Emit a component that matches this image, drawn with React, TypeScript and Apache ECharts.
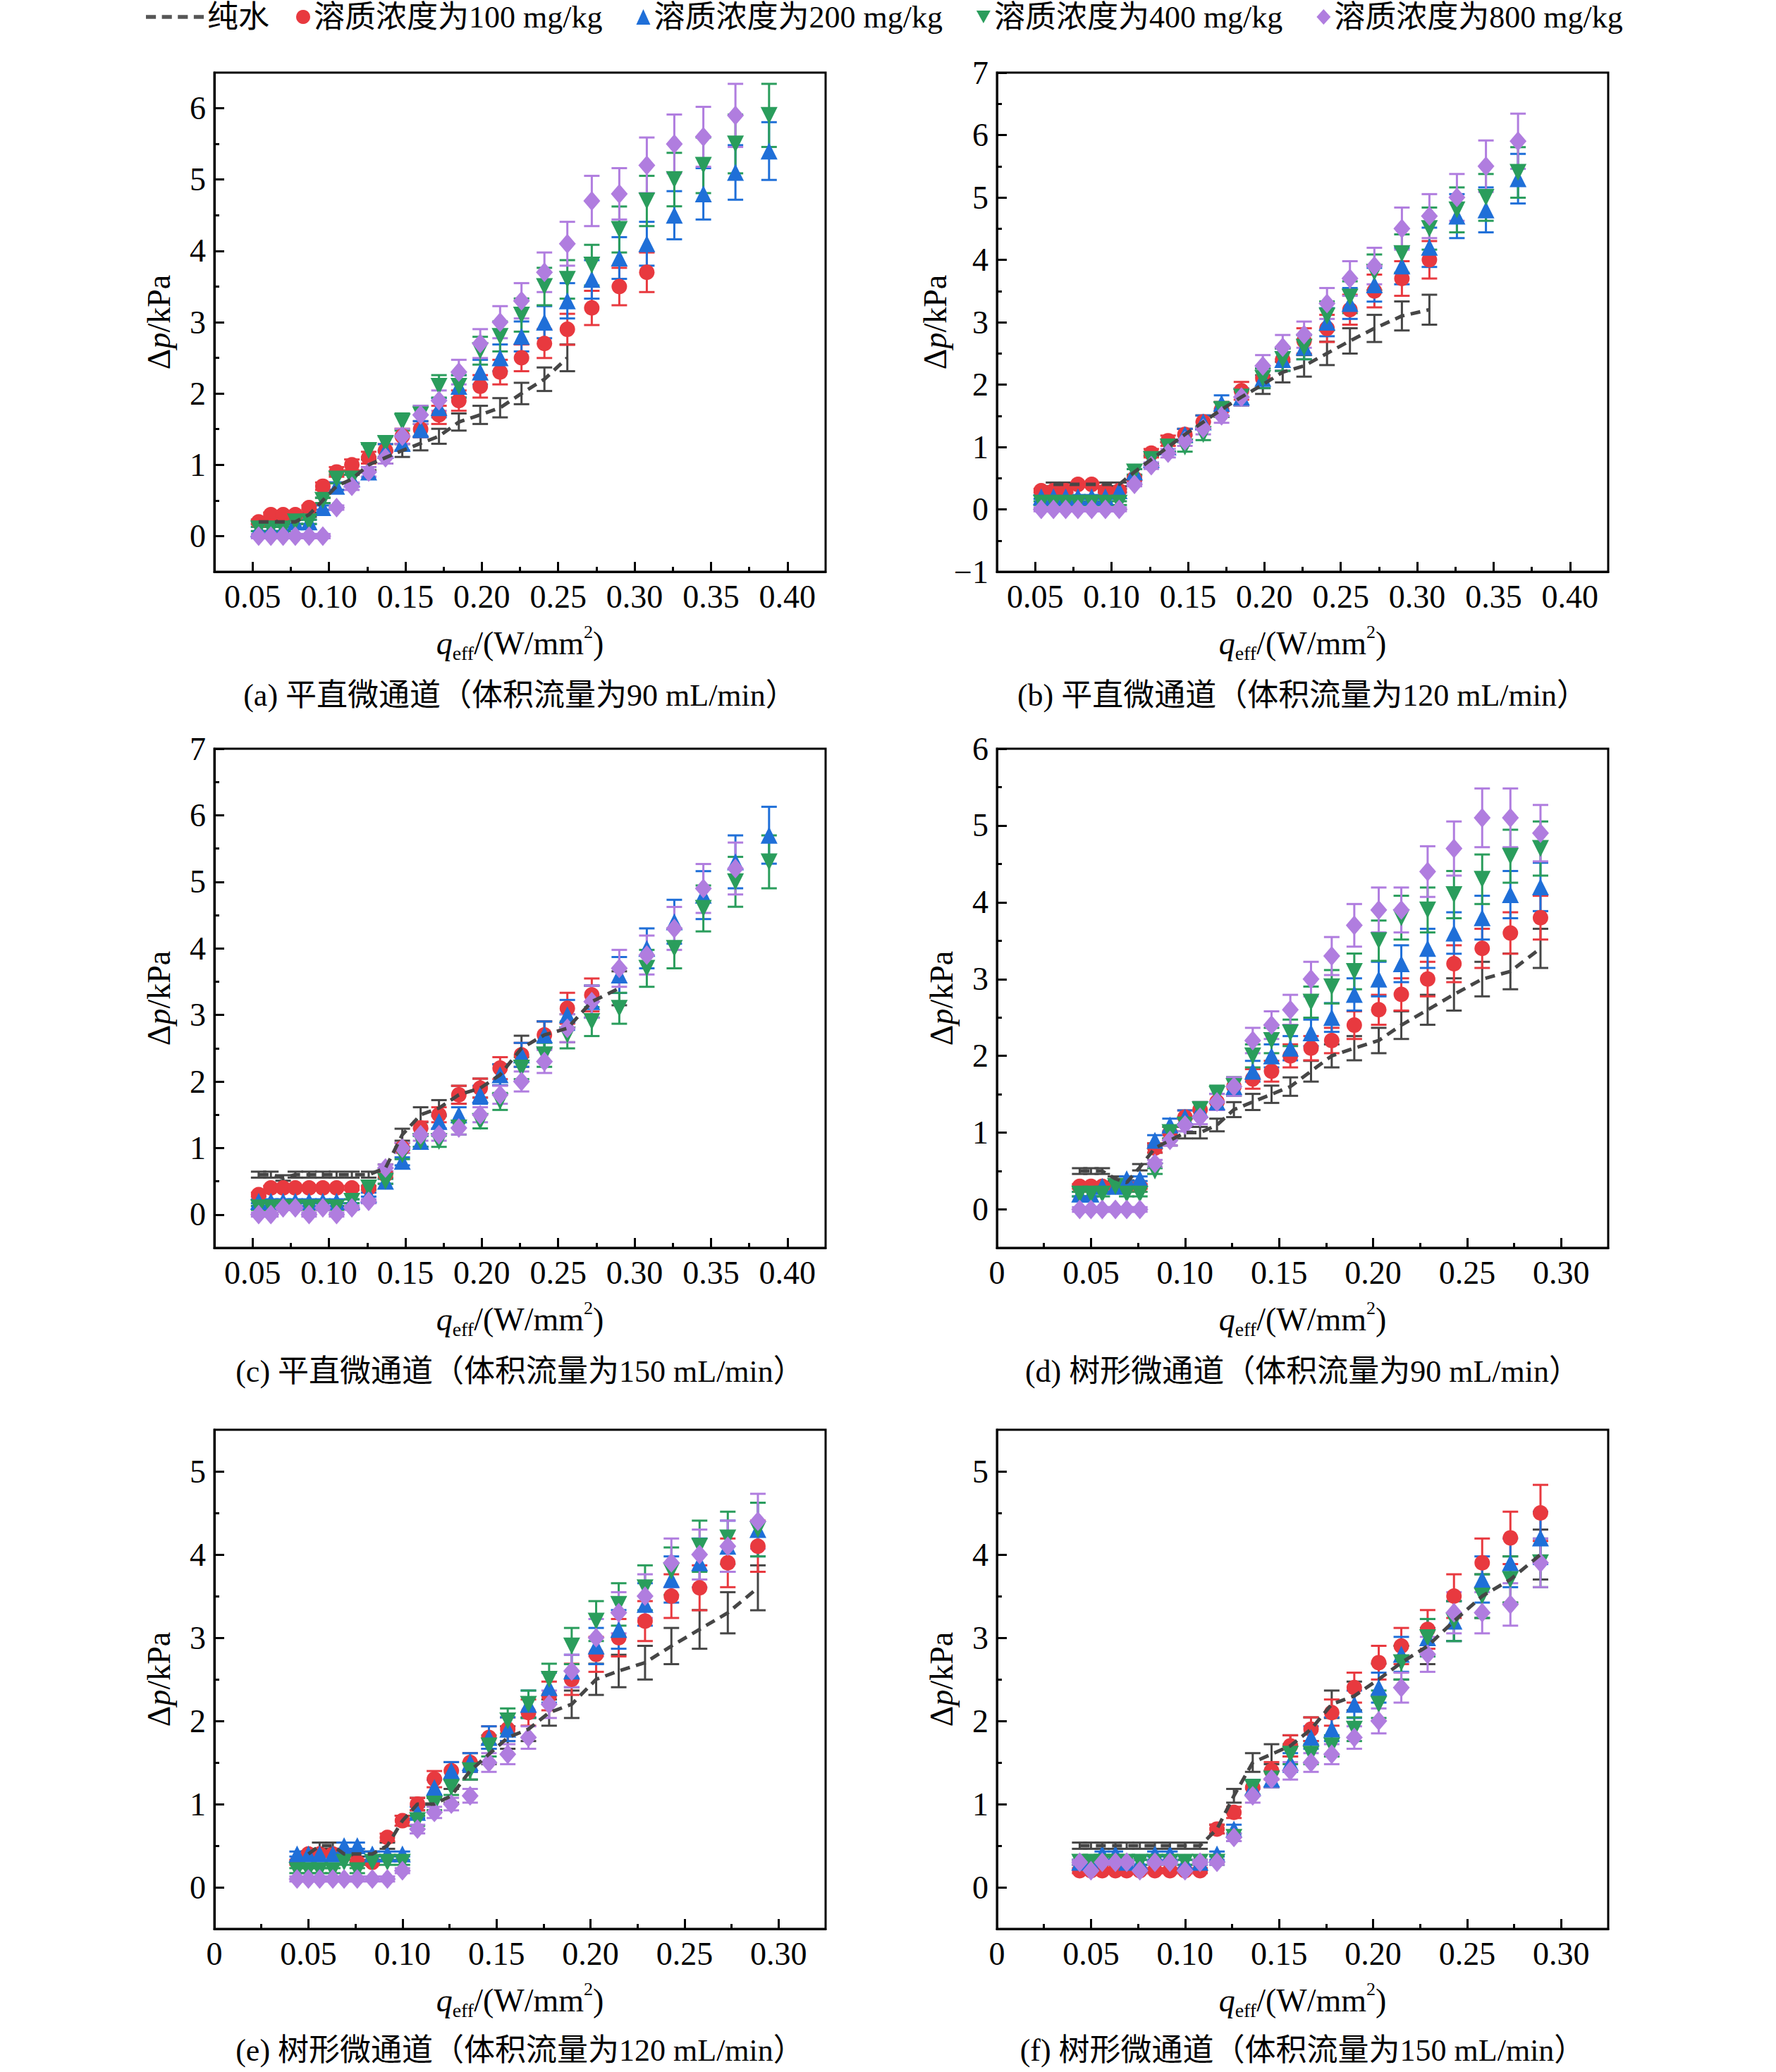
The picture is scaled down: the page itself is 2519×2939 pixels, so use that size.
import React, { useEffect, useRef } from "react";
import * as echarts from "echarts";

// ---------- data ----------
const X_STRAIGHT = [0.054, 0.062, 0.070, 0.078, 0.087, 0.096, 0.105, 0.115, 0.126, 0.137, 0.148, 0.160, 0.172, 0.185, 0.199, 0.212, 0.226, 0.241, 0.256, 0.272, 0.290, 0.308, 0.326, 0.345, 0.366, 0.388];
const X_TREE = [0.044, 0.050, 0.056, 0.063, 0.069, 0.076, 0.084, 0.092, 0.100, 0.108, 0.117, 0.126, 0.136, 0.146, 0.156, 0.167, 0.178, 0.190, 0.203, 0.215, 0.229, 0.243, 0.258, 0.273, 0.289];

const X_TICKS_STRAIGHT = [0.05, 0.10, 0.15, 0.20, 0.25, 0.30, 0.35, 0.40];
const X_MINOR_STRAIGHT = [0.075, 0.125, 0.175, 0.225, 0.275, 0.325, 0.375];
const X_TICKS_TREE = [0, 0.05, 0.10, 0.15, 0.20, 0.25, 0.30];
const X_MINOR_TREE = [0.025, 0.075, 0.125, 0.175, 0.225, 0.275];

const SERIES_NAMES = ["纯水", "溶质浓度为100 mg/kg", "溶质浓度为200 mg/kg", "溶质浓度为400 mg/kg", "溶质浓度为800 mg/kg"];
const CAPTIONS = [
  "(a) 平直微通道（体积流量为90 mL/min）",
  "(b) 平直微通道（体积流量为120 mL/min）",
  "(c) 平直微通道（体积流量为150 mL/min）",
  "(d) 树形微通道（体积流量为90 mL/min）",
  "(e) 树形微通道（体积流量为120 mL/min）",
  "(f) 树形微通道（体积流量为150 mL/min）",
];

// relative uncertainty of the error bars
const ERROR_RATIO = 0.075;
const MIN_ERROR = 0.03;

// panel (a)
const A_WATER = [0.2, 0.2, 0.2, 0.2, 0.3, 0.5, 0.7, 0.8, 1.0, 1.1, 1.2, 1.3, 1.4, 1.6, 1.7, 1.8, 2.0, 2.2, 2.5];
const A_100 = [0.2, 0.3, 0.3, 0.3, 0.4, 0.7, 0.9, 1.0, 1.1, 1.2, 1.4, 1.5, 1.7, 1.9, 2.1, 2.3, 2.5, 2.7, 2.9, 3.2, 3.5, 3.7];
const A_200 = [0.1, 0.1, 0.1, 0.2, 0.2, 0.4, 0.7, 0.8, 0.9, 1.2, 1.3, 1.5, 1.8, 2.1, 2.3, 2.5, 2.8, 3.0, 3.3, 3.6, 3.9, 4.1, 4.5, 4.8, 5.1, 5.4];
const A_400 = [0.1, 0.1, 0.1, 0.2, 0.2, 0.5, 0.8, 0.8, 1.2, 1.3, 1.6, 1.7, 2.1, 2.1, 2.6, 2.8, 3.1, 3.5, 3.6, 3.8, 4.3, 4.7, 5.0, 5.2, 5.5, 5.9];
const A_800 = [0, 0, 0, 0, 0, 0, 0.4, 0.7, 0.9, 1.1, 1.4, 1.7, 1.9, 2.3, 2.7, 3.0, 3.3, 3.7, 4.1, 4.7, 4.8, 5.2, 5.5, 5.6, 5.9];

// panel (b)
const B_WATER = [null, 0.4, 0.4, 0.4, 0.4, 0.4, 0.4, 0.6, 0.8, 1.0, 1.2, 1.4, 1.6, 1.8, 2.0, 2.2, 2.3, 2.5, 2.7, 2.9, 3.1, 3.2];
const B_100 = [0.3, 0.3, 0.3, 0.4, 0.4, 0.3, 0.3, 0.5, 0.9, 1.1, 1.2, 1.4, 1.6, 1.9, 2.1, 2.4, 2.7, 2.9, 3.2, 3.5, 3.7, 4.0];
const B_200 = [0.2, 0.2, 0.2, 0.2, 0.2, 0.2, 0.3, 0.6, 0.8, 1.0, 1.2, 1.4, 1.7, 1.8, 2.1, 2.4, 2.6, 3.0, 3.3, 3.6, 3.9, 4.2, 4.7, 4.8, 5.3];
const B_400 = [0.1, 0.1, 0.1, 0.1, 0.1, 0.1, 0.1, 0.6, 0.8, 1.0, 1.0, 1.2, 1.6, 1.8, 2.1, 2.4, 2.6, 3.1, 3.4, 3.8, 4.1, 4.5, 4.8, 5.0, 5.4];
const B_800 = [0, 0, 0, 0, 0, 0, 0, 0.4, 0.7, 0.9, 1.1, 1.3, 1.5, 1.8, 2.3, 2.6, 2.8, 3.3, 3.7, 3.9, 4.5, 4.7, 5.0, 5.5, 5.9];

// panel (c)
const C_WATER = [0.6, 0.6, 0.55, 0.6, 0.6, 0.6, 0.6, 0.6, 0.6, 0.7, 1.2, 1.5, 1.6, 1.8, 1.9, 2.1, 2.5, 2.7, 2.8, 3.2, 3.4];
const C_100 = [0.3, 0.4, 0.4, 0.4, 0.4, 0.4, 0.4, 0.4, 0.4, 0.6, 1.0, 1.3, 1.5, 1.8, 1.9, 2.2, 2.4, 2.7, 3.1, 3.3];
const C_200 = [0.2, 0.2, 0.2, 0.2, 0.2, 0.2, 0.2, 0.2, 0.3, 0.5, 0.8, 1.1, 1.4, 1.5, 1.8, 2.1, 2.4, 2.7, 3.0, 3.2, 3.6, 4.0, 4.4, 4.8, 5.3, 5.7];
const C_400 = [0.1, 0.1, 0.1, 0.1, 0.1, 0.1, 0.1, 0.2, 0.4, 0.5, 0.9, 1.1, 1.1, 1.3, 1.4, 1.7, 2.2, 2.4, 2.7, 2.9, 3.1, 3.7, 4.0, 4.6, 5.0, 5.3];
const C_800 = [0, 0, 0.1, 0.1, 0, 0.1, 0, 0.1, 0.2, 0.7, 1.0, 1.2, 1.2, 1.3, 1.5, 1.8, 2.0, 2.3, 2.8, 3.2, 3.7, 3.9, 4.3, 4.9, 5.2];

// panel (d)
const D_WATER = [0.5, 0.5, 0.5, 0.4, 0.35, 0.55, 0.8, 0.9, 1.0, 1.0, 1.1, 1.3, 1.4, 1.5, 1.6, 1.8, 2.0, 2.1, 2.2, 2.4, 2.6, 2.8, 3.0, 3.1, 3.4];
const D_100 = [0.3, 0.3, 0.3, 0.3, 0.3, 0.3, 0.8, 1.0, 1.2, 1.3, 1.4, 1.6, 1.7, 1.8, 2.0, 2.1, 2.2, 2.4, 2.6, 2.8, 3.0, 3.2, 3.4, 3.6, 3.8];
const D_200 = [0.2, 0.2, 0.3, 0.3, 0.4, 0.4, 0.9, 1.1, 1.2, 1.3, 1.4, 1.6, 1.8, 2.0, 2.1, 2.3, 2.5, 2.8, 3.0, 3.2, 3.4, 3.6, 3.8, 4.1, 4.2];
const D_400 = [0.2, 0.2, 0.2, 0.3, 0.2, 0.2, 0.5, 1.0, 1.1, 1.3, 1.5, 1.6, 2.0, 2.2, 2.3, 2.7, 2.9, 3.1, 3.5, 3.8, 3.9, 4.1, 4.3, 4.6, 4.7];
const D_800 = [0, 0, 0, 0, 0, 0, 0.6, 0.9, 1.1, 1.2, 1.4, 1.6, 2.2, 2.4, 2.6, 3.0, 3.3, 3.7, 3.9, 3.9, 4.4, 4.7, 5.1, 5.1, 4.9];

// panel (e)
const E_WATER = [null, 0.4, 0.5, 0.5, 0.4, 0.4, 0.4, 0.5, 0.8, 1.0, 1.0, 1.1, 1.4, 1.6, 1.8, 1.9, 2.1, 2.2, 2.5, 2.6, 2.7, 2.9, 3.1, 3.3, 3.6];
const E_100 = [0.3, 0.4, 0.4, 0.4, 0.4, 0.3, 0.3, 0.6, 0.8, 1.0, 1.3, 1.4, 1.5, 1.8, 1.9, 2.1, 2.3, 2.5, 2.8, 3.0, 3.2, 3.5, 3.6, 3.9, 4.1];
const E_200 = [0.4, 0.4, 0.4, 0.4, 0.5, 0.5, 0.4, 0.4, 0.4, 0.9, 1.2, 1.4, 1.5, 1.8, 1.9, 2.2, 2.4, 2.6, 2.9, 3.1, 3.4, 3.7, 3.9, 4.1, 4.3];
const E_400 = [0.2, 0.2, 0.2, 0.2, 0.3, 0.2, 0.3, 0.3, 0.3, 0.8, 1.0, 1.2, 1.4, 1.7, 2.0, 2.2, 2.5, 2.9, 3.2, 3.4, 3.6, 3.8, 4.1, 4.2, 4.3];
const E_800 = [0.1, 0.1, 0.1, 0.1, 0.1, 0.1, 0.1, 0.1, 0.2, 0.7, 0.9, 1.0, 1.1, 1.5, 1.6, 1.8, 2.2, 2.6, 3.0, 3.3, 3.5, 3.9, 4.0, 4.1, 4.4];

// panel (f)
const F_WATER = [0.5, 0.5, 0.5, 0.5, 0.5, 0.5, 0.5, 0.5, 0.5, 0.5, 0.7, 1.1, 1.5, 1.6, 1.7, 1.9, 2.2, 2.3, 2.5, 2.7, 2.9, 3.2, 3.5, 3.7, 4.0];
const F_100 = [0.2, 0.2, 0.2, 0.2, 0.2, 0.2, 0.2, 0.2, 0.2, 0.2, 0.7, 0.9, 1.2, 1.4, 1.7, 1.9, 2.1, 2.4, 2.7, 2.9, 3.1, 3.5, 3.9, 4.2, 4.5];
const F_200 = [0.3, 0.3, 0.4, 0.4, 0.3, 0.3, 0.4, 0.4, 0.3, 0.3, 0.4, 0.7, 1.2, 1.3, 1.5, 1.8, 1.9, 2.2, 2.4, 2.8, 3.0, 3.2, 3.7, 3.9, 4.2];
const F_400 = [0.3, 0.3, 0.3, 0.3, 0.3, 0.3, 0.3, 0.3, 0.3, 0.3, 0.3, 0.6, 1.2, 1.3, 1.6, 1.6, 1.7, 1.9, 2.2, 2.7, 3.0, 3.2, 3.5, 3.7, 3.9];
const F_800 = [0.3, 0.2, 0.3, 0.3, 0.3, 0.2, 0.3, 0.3, 0.2, 0.3, 0.3, 0.6, 1.1, 1.3, 1.4, 1.5, 1.6, 1.8, 2.0, 2.4, 2.8, 3.3, 3.3, 3.4, 3.9];

const PANELS = [
  { x: X_STRAIGHT, series: [A_WATER, A_100, A_200, A_400, A_800], xMin: 0.025, xMax: 0.425, xTicks: X_TICKS_STRAIGHT, xMinor: X_MINOR_STRAIGHT, yMin: -0.5, yMax: 6.5, yTicks: [0, 1, 2, 3, 4, 5, 6], yMinor: [0.5, 1.5, 2.5, 3.5, 4.5, 5.5] },
  { x: X_STRAIGHT, series: [B_WATER, B_100, B_200, B_400, B_800], xMin: 0.025, xMax: 0.425, xTicks: X_TICKS_STRAIGHT, xMinor: X_MINOR_STRAIGHT, yMin: -1, yMax: 7, yTicks: [-1, 0, 1, 2, 3, 4, 5, 6, 7], yMinor: [-0.5, 0.5, 1.5, 2.5, 3.5, 4.5, 5.5, 6.5] },
  { x: X_STRAIGHT, series: [C_WATER, C_100, C_200, C_400, C_800], xMin: 0.025, xMax: 0.425, xTicks: X_TICKS_STRAIGHT, xMinor: X_MINOR_STRAIGHT, yMin: -0.5, yMax: 7, yTicks: [0, 1, 2, 3, 4, 5, 6, 7], yMinor: [0.5, 1.5, 2.5, 3.5, 4.5, 5.5, 6.5] },
  { x: X_TREE, series: [D_WATER, D_100, D_200, D_400, D_800], xMin: 0, xMax: 0.325, xTicks: X_TICKS_TREE, xMinor: X_MINOR_TREE, yMin: -0.5, yMax: 6, yTicks: [0, 1, 2, 3, 4, 5, 6], yMinor: [0.5, 1.5, 2.5, 3.5, 4.5, 5.5] },
  { x: X_TREE, series: [E_WATER, E_100, E_200, E_400, E_800], xMin: 0, xMax: 0.325, xTicks: X_TICKS_TREE, xMinor: X_MINOR_TREE, yMin: -0.5, yMax: 5.5, yTicks: [0, 1, 2, 3, 4, 5], yMinor: [0.5, 1.5, 2.5, 3.5, 4.5] },
  { x: X_TREE, series: [F_WATER, F_100, F_200, F_400, F_800], xMin: 0, xMax: 0.325, xTicks: X_TICKS_TREE, xMinor: X_MINOR_TREE, yMin: -0.5, yMax: 5.5, yTicks: [0, 1, 2, 3, 4, 5], yMinor: [0.5, 1.5, 2.5, 3.5, 4.5] },
];

// ---------- styles / layout ----------
const W = 2519;
const H = 2939;
const FONT = "'Liberation Serif', 'Times New Roman', 'Noto Sans CJK SC', serif";
const COLORS = ["#464646", "#e8393f", "#1f6fd8", "#2a9d5c", "#b07ddf"];
const SYMBOLS = ["none", "circle", "triangle", "triangle", "diamond"];
const SYMBOL_ROTATE = [0, 0, 0, 180, 0];
const SYMBOL_SIZE: any[] = [0, 22, 24, 24, [24, 28]];
const COL_LEFT = [304, 1414];
const GRID_W = 867;
const ROW_TOP = [103, 1062, 2028];
const GRID_H = 708;
const CAPTION_Y = [986, 1945, 2908];
const TICK_FS = 46;
const DASH_ICON = "path://M0,0h10v4h-10zM16,0h10v4h-10zM32,0h10v4h-10zM48,0h10v4h-10z";

export default function App() {
  const ref = useRef<HTMLDivElement>(null);

  useEffect(() => {
    document.body.style.margin = "0";
    if (!ref.current) return;
    const chart = echarts.init(ref.current, undefined, { renderer: "svg" });

    const grids: any[] = [];
    const xAxes: any[] = [];
    const yAxes: any[] = [];
    const series: any[] = [];
    const graphics: any[] = [];

    PANELS.forEach((p, i) => {
      const col = i % 2;
      const row = Math.floor(i / 2);
      const left = COL_LEFT[col];
      const top = ROW_TOP[row];
      grids.push({ left, top, width: GRID_W, height: GRID_H, show: true, borderColor: "#000", borderWidth: 3, backgroundColor: "transparent" });

      const xFmt = (v: number) => (Math.abs(v) < 1e-9 ? "0" : v.toFixed(2));
      const yFmt = (v: number) => (v < 0 ? "\u2212" + Math.abs(v) : String(v));

      xAxes.push({
        gridIndex: i, type: "value", position: "bottom", min: p.xMin, max: p.xMax,
        axisLine: { show: true, onZero: false, lineStyle: { color: "#000", width: 3 } },
        axisTick: { show: true, inside: true, length: 14, customValues: p.xTicks, lineStyle: { color: "#000", width: 3 } },
        axisLabel: { show: true, customValues: p.xTicks, formatter: xFmt, fontSize: TICK_FS, fontFamily: FONT, color: "#000", margin: 12 },
        splitLine: { show: false },
        name: "{i|q}{sub|eff}/(W/mm{sup|2})",
        nameLocation: "middle",
        nameGap: 72,
        nameTextStyle: {
          fontSize: 46, fontFamily: FONT, color: "#000", lineHeight: 58,
          rich: {
            i: { fontSize: 46, fontStyle: "italic", fontFamily: FONT, color: "#000", lineHeight: 58 },
            sub: { fontSize: 28, fontFamily: FONT, color: "#000", verticalAlign: "bottom", lineHeight: 58 },
            sup: { fontSize: 26, fontFamily: FONT, color: "#000", verticalAlign: "top", lineHeight: 58 },
          },
        },
      });
      xAxes.push({
        gridIndex: i, type: "value", position: "bottom", min: p.xMin, max: p.xMax,
        axisLine: { show: false, onZero: false },
        axisTick: { show: true, inside: true, length: 7, customValues: p.xMinor, lineStyle: { color: "#000", width: 3 } },
        axisLabel: { show: false },
        splitLine: { show: false },
      });
      yAxes.push({
        gridIndex: i, type: "value", position: "left", min: p.yMin, max: p.yMax,
        axisLine: { show: true, onZero: false, lineStyle: { color: "#000", width: 3 } },
        axisTick: { show: true, inside: true, length: 14, customValues: p.yTicks, lineStyle: { color: "#000", width: 3 } },
        axisLabel: { show: true, customValues: p.yTicks, formatter: yFmt, fontSize: TICK_FS, fontFamily: FONT, color: "#000", margin: 12 },
        splitLine: { show: false },
        name: "Δ{i|p}/kPa",
        nameLocation: "middle",
        nameRotate: 90,
        nameGap: 56,
        nameTextStyle: {
          fontSize: 46, fontFamily: FONT, color: "#000",
          rich: { i: { fontSize: 46, fontStyle: "italic", fontFamily: FONT, color: "#000" } },
        },
      });
      yAxes.push({
        gridIndex: i, type: "value", position: "left", min: p.yMin, max: p.yMax,
        axisLine: { show: false, onZero: false },
        axisTick: { show: true, inside: true, length: 7, customValues: p.yMinor, lineStyle: { color: "#000", width: 3 } },
        axisLabel: { show: false },
        splitLine: { show: false },
      });

      p.series.forEach((vals, s) => {
        const pts: number[][] = [];
        vals.forEach((v: any, k: number) => {
          if (v !== null && v !== undefined && k < p.x.length) pts.push([p.x[k], v]);
        });
        const color = COLORS[s];
        const errData = pts.map(([x, y]) => [x, y, Math.max(MIN_ERROR, y * ERROR_RATIO)]);
        const errSeries = {
          type: "custom",
          name: SERIES_NAMES[s] + "·误差",
          xAxisIndex: 2 * i,
          yAxisIndex: 2 * i,
          data: errData,
          encode: { x: 0, y: 1 },
          silent: true,
          renderItem: (_params: any, api: any) => {
            const x = api.value(0);
            const y = api.value(1);
            const e = api.value(2);
            const t = api.coord([x, y + e]);
            const b = api.coord([x, y - e]);
            const w = 11;
            const st = { stroke: color, lineWidth: 3 };
            return {
              type: "group",
              children: [
                { type: "line", shape: { x1: t[0], y1: t[1], x2: b[0], y2: b[1] }, style: st },
                { type: "line", shape: { x1: t[0] - w, y1: t[1], x2: t[0] + w, y2: t[1] }, style: st },
                { type: "line", shape: { x1: b[0] - w, y1: b[1], x2: b[0] + w, y2: b[1] }, style: st },
              ],
            };
          },
        };
        if (s === 0) {
          series.push({
            type: "line", name: SERIES_NAMES[0], xAxisIndex: 2 * i, yAxisIndex: 2 * i,
            data: pts, symbol: "none", showSymbol: false, silent: true,
            lineStyle: { color, width: 5, type: [14, 9] },
            itemStyle: { color },
          });
          series.push(errSeries);
        } else {
          series.push(errSeries);
          series.push({
            type: "scatter", name: SERIES_NAMES[s], xAxisIndex: 2 * i, yAxisIndex: 2 * i,
            data: pts, symbol: SYMBOLS[s], symbolSize: SYMBOL_SIZE[s], symbolRotate: SYMBOL_ROTATE[s],
            silent: true, itemStyle: { color, opacity: 1 },
          });
        }
      });

      graphics.push({
        type: "text",
        x: left + GRID_W / 2,
        y: CAPTION_Y[row],
        style: {
          text: CAPTIONS[i], fontSize: 44, fontFamily: FONT, fill: "#000",
          align: "center", verticalAlign: "middle", textAlign: "center", textVerticalAlign: "middle",
        },
      });
    });

    const legendText = { fontSize: 44, fontFamily: FONT, color: "#000" };
    const option: any = {
      animation: false,
      backgroundColor: "#fff",
      grid: grids,
      xAxis: xAxes,
      yAxis: yAxes,
      series,
      graphic: graphics,
      legend: [
        {
          data: [{ name: SERIES_NAMES[0], icon: DASH_ICON, itemStyle: { color: "#555" } }],
          left: 207, top: 2, padding: 0, itemWidth: 82, itemHeight: 20,
          selectedMode: false, textStyle: legendText,
        },
        {
          data: [
            { name: SERIES_NAMES[1], icon: "circle", itemStyle: { color: COLORS[1] } },
            { name: SERIES_NAMES[2], icon: "triangle", itemStyle: { color: COLORS[2] } },
            { name: SERIES_NAMES[3], icon: "path://M0,0L20,0L10,18Z", itemStyle: { color: COLORS[3] } },
            { name: SERIES_NAMES[4], icon: "diamond", itemStyle: { color: COLORS[4] } },
          ],
          left: 420, top: 2, padding: 0, itemWidth: 20, itemHeight: 22, itemGap: 48,
          selectedMode: false, textStyle: legendText,
        },
      ],
    };
    chart.setOption(option);
    return () => chart.dispose();
  }, []);

  return <div ref={ref} style={{ width: W, height: H }} />;
}
